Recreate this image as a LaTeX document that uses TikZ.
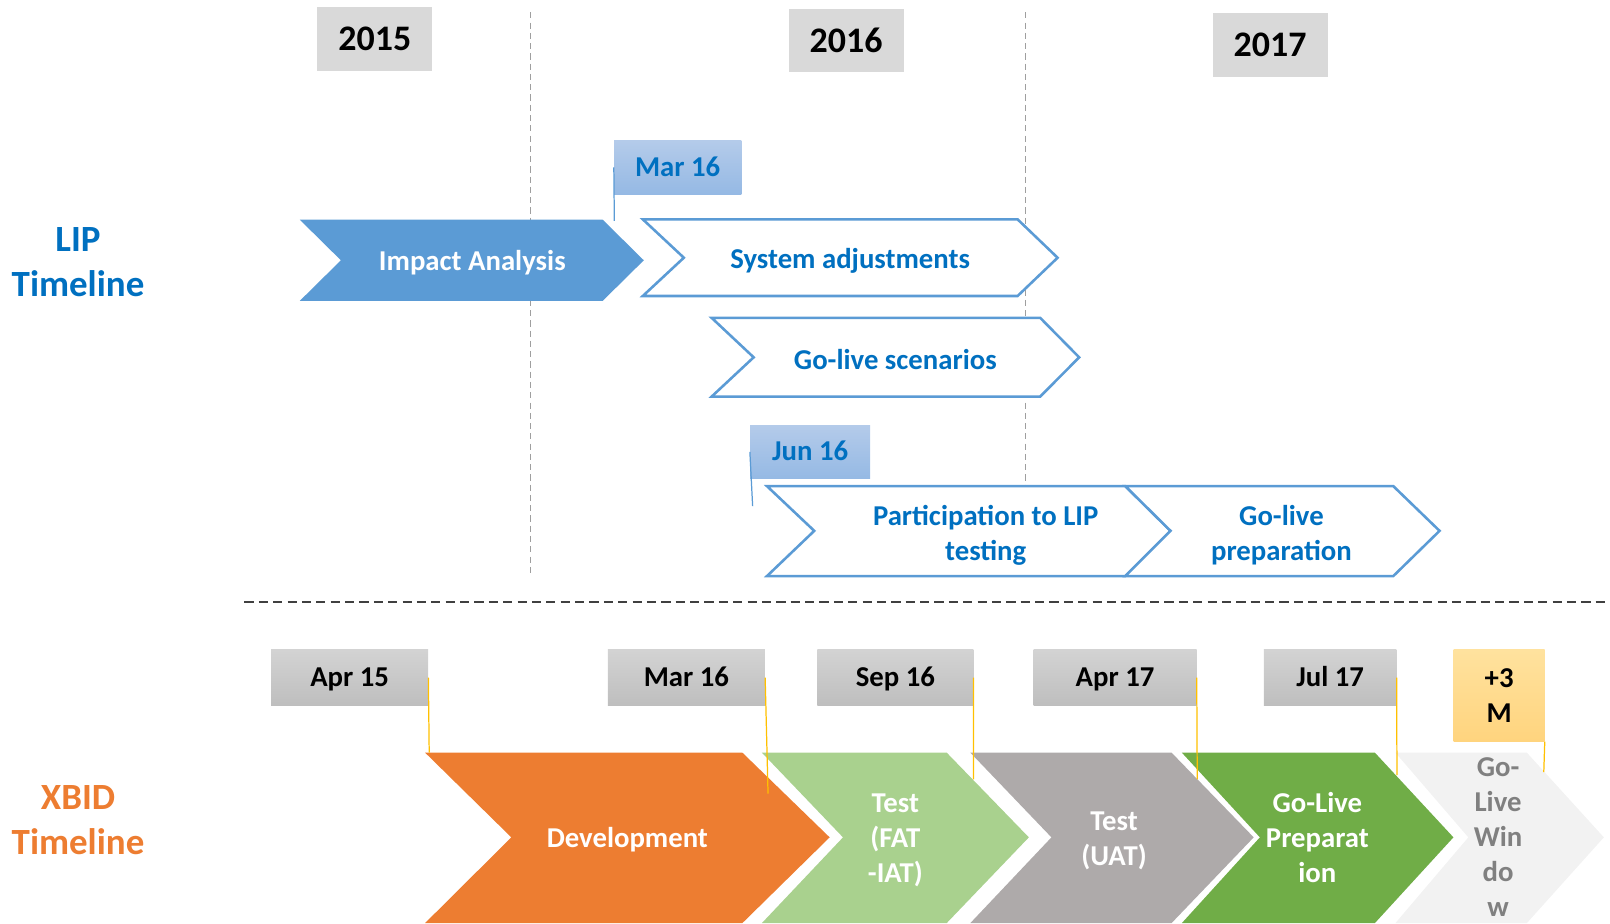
\documentclass[tikz,border=0pt]{standalone}
\usepackage{fontspec}
\setmainfont{Carlito}
\definecolor{lipblue}{HTML}{0070C0}
\definecolor{chevblue}{HTML}{5B9BD5}
\definecolor{xorange}{HTML}{ED7D31}
\definecolor{ltgreen}{HTML}{A9D18E}
\definecolor{midgray}{HTML}{AEAAAA}
\definecolor{dkgreen}{HTML}{70AD47}
\definecolor{pale}{HTML}{F2F2F2}
\definecolor{paletext}{HTML}{808080}
\definecolor{yrgray}{HTML}{D9D9D9}
\definecolor{callyellow}{HTML}{FFC000}
\definecolor{boxtop}{HTML}{D3D3D3}
\definecolor{boxbot}{HTML}{BEBEBE}
\definecolor{bluetop}{HTML}{B4CBEA}
\definecolor{bluebot}{HTML}{95B9E4}
\definecolor{yeltop}{HTML}{FFE29E}
\definecolor{yelbot}{HTML}{FFD47E}
\begin{document}
\begin{tikzpicture}[x=1pt,y=-1pt,
  yearbox/.style={fill=yrgray, minimum width=112, minimum height=62, inner sep=0,
    text height=23, text depth=0, font=\fontsize{35}{40}\selectfont\bfseries},
  sidelabel/.style={align=center, font=\fontsize{36}{44}\selectfont\bfseries},
  vdash/.style={draw=gray!75, line width=1.2, dash pattern=on 6 off 4},
  hdash/.style={draw=black!75, line width=2, dash pattern=on 9 off 5},
  chevfill/.style={fill=chevblue},
  chevline/.style={draw=chevblue, fill=white, line width=2.5, line join=miter},
  liptext/.style={text=lipblue, align=center, font=\fontsize{28}{34}\selectfont\bfseries},
  bluedate/.style={top color=bluetop, bottom color=bluebot, inner sep=0,
    minimum height=52, text height=17, text depth=0, text=lipblue,
    font=\fontsize{28}{34}\selectfont\bfseries},
  graydate/.style={top color=boxtop, bottom color=boxbot, inner sep=0,
    minimum height=54, text height=16.5, text depth=0, text=black,
    font=\fontsize{28}{34}\selectfont\bfseries},
  yeldate/.style={top color=yeltop, bottom color=yelbot, inner sep=0, align=center,
    text=black, font=\fontsize{28}{34}\selectfont\bfseries},
  bluetick/.style={draw=chevblue, line width=1.2},
  yeltick/.style={draw=callyellow, line width=1.2},
  xtext/.style={text=white, align=center, font=\fontsize{28}{34}\selectfont\bfseries}
]
\useasboundingbox (0,0) rectangle (1568,899);

% year boxes
\node[yearbox] (y2015) at (365,38) {2015};
\node[yearbox] (y2016) at (824,39.5) {2016};
\node[yearbox] (y2017) at (1237,44) {2017};

% vertical dashed separators
\draw[vdash] (517,12) -- (517,560);
\draw[vdash] (999,12) -- (999,500);

% side labels
\node[sidelabel, text=lipblue] (liplab) at (76,255) {LIP\\Timeline};
\node[sidelabel, text=xorange] (xbidlab) at (76,799) {XBID\\Timeline};

% LIP chevrons
\path[chevfill] (292,214) -- (587,214) -- (627,253.5) -- (587,293) -- (292,293) -- (332,253.5) -- cycle;
\node[xtext] (impact) at (460,256) {Impact Analysis};

\path[chevline] (626,213.6) -- (991,213.6) -- (1030,251) -- (991,288.3) -- (626,288.3) -- (666,251) -- cycle;
\node[liptext] (sysadj) at (828,254) {System adjustments};

\path[chevline] (693,309.5) -- (1013,309.5) -- (1051,348) -- (1013,386.3) -- (693,386.3) -- (734,348) -- cycle;
\node[liptext] (golscen) at (872,350) {Go-live scenarios};

\path[chevline] (747,473.5) -- (1096,473.5) -- (1140,517) -- (1096,561) -- (747,561) -- (793,517) -- cycle;
\node[liptext] (partic) at (960,521) {Participation to LIP\\testing};

\path[chevline] (1096,473.5) -- (1357,473.5) -- (1402,517) -- (1357,561) -- (1096,561) -- (1140,517) -- cycle;
\node[liptext] (golprep) at (1248,521) {Go-live\\preparation};

% LIP date callouts
\node[bluedate, minimum width=124] (mar16a) at (660,163) {Mar 16};
\coordinate (mar16foot) at (598.3,215);
\draw[bluetick] (mar16a.west) -- (mar16foot);
\node[bluedate, minimum width=117] (jun16) at (789,440) {Jun 16};
\coordinate (jun16foot) at (733,493);
\draw[bluetick] (jun16.west) -- (jun16foot);

% horizontal separator
\draw[hdash] (238,586) -- (1568,586);

% XBID chevrons
\path[fill=xorange] (414,733) -- (723,733) -- (808,815.5) -- (723,899) -- (414,899) -- (498,815.5) -- cycle;
\node[xtext] (dev) at (611,818) {Development};
\path[fill=ltgreen] (742,733) -- (922,733) -- (1002,815.5) -- (922,899) -- (742,899) -- (821,815.5) -- cycle;
\node[xtext] (fat) at (872,818.5) {Test\\(FAT\\-IAT)};
\path[fill=midgray] (945,733) -- (1141,733) -- (1221,815.5) -- (1141,899) -- (945,899) -- (1024,815.5) -- cycle;
\node[xtext] (uat) at (1085,819) {Test\\(UAT)};
\path[fill=dkgreen] (1151,733) -- (1339,733) -- (1415.5,815.5) -- (1339,899) -- (1151,899) -- (1227,815.5) -- cycle;
\node[xtext] (gprep) at (1283,816) {Go-Live\\Preparat\\ion};
\path[fill=pale] (1359,733) -- (1487,733) -- (1562,815.5) -- (1487,899) -- (1359,899) -- (1430,815.5) -- cycle;
\node[xtext, text=paletext] (gwin) at (1459,815.5) {Go-\\Live\\Win\\do\\w};

% XBID date boxes
\node[graydate, minimum width=153] (apr15) at (340.5,660) {Apr 15};
\node[graydate, minimum width=153] (mar16b) at (668.5,660) {Mar 16};
\node[graydate, minimum width=152] (sep16) at (872,660) {Sep 16};
\node[graydate, minimum width=158.6] (apr17) at (1086,660) {Apr 17};
\node[graydate, minimum width=129] (jul17) at (1295.5,660) {Jul 17};
\node[yeldate, minimum width=88.5, minimum height=89] (plus3) at (1460,677.5) {+3\\M};

% yellow ticks
\coordinate (apr15foot) at (418,733);
\coordinate (mar16bfoot) at (748,773);
\coordinate (sep16foot) at (948,759);
\coordinate (apr17foot) at (1166,759);
\coordinate (jul17foot) at (1360.5,755);
\coordinate (plus3foot) at (1503.5,752);
\draw[yeltick] (apr15.east) -- (apr15foot);
\draw[yeltick] (mar16b.east) -- (mar16bfoot);
\draw[yeltick] (sep16.east) -- (sep16foot);
\draw[yeltick] (apr17.east) -- (apr17foot);
\draw[yeltick] (jul17.east) -- (jul17foot);
\draw[yeltick] (plus3.south east) -- (plus3foot);
\end{tikzpicture}
\end{document}
